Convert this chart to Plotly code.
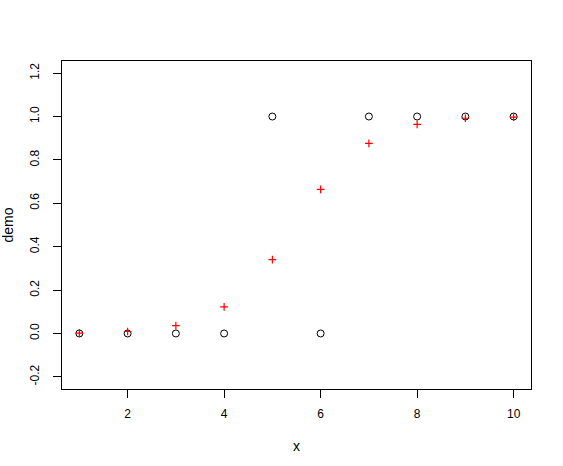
import plotly.graph_objects as go

x_vals = [1, 2, 3, 4, 5, 6, 7, 8, 9, 10]
demo = [0, 0, 0, 0, 1, 0, 1, 1, 1, 1]
fitted = [0.002, 0.009, 0.036, 0.123, 0.340, 0.664, 0.876, 0.964, 0.992, 0.997]

x_ticks = [2, 4, 6, 8, 10]
y_ticks = [-0.2, 0.0, 0.2, 0.4, 0.6, 0.8, 1.0, 1.2]
y_tick_text = ["-0.2", "0.0", "0.2", "0.4", "0.6", "0.8", "1.0", "1.2"]

fig = go.Figure()
fig.add_trace(go.Scatter(
    x=x_vals, y=demo, mode="markers",
    marker=dict(symbol="circle-open", size=7, color="black", line=dict(width=1, color="black")),
    showlegend=False))
fig.add_trace(go.Scatter(
    x=x_vals, y=fitted, mode="markers",
    marker=dict(symbol="cross-thin-open", size=5.5, color="red", line=dict(width=1.2, color="red")),
    showlegend=False))

xr = [1 - 0.36, 10 + 0.36]
yr = [-0.2 - 0.056, 1.2 + 0.056]

fig.update_layout(
    width=563, height=466,
    margin=dict(l=62, r=32, t=61, b=77),
    paper_bgcolor="white", plot_bgcolor="white",
    font=dict(family="Liberation Sans, Arial, sans-serif", size=12, color="black"),
    xaxis=dict(range=xr, tickvals=x_ticks, ticks="outside", ticklen=8, tickwidth=1,
               tickcolor="black", showline=True, linecolor="black", linewidth=1, mirror=True,
               showgrid=False, zeroline=False, ticklabelstandoff=6, automargin=False,
               title=dict(text="x", standoff=20)),
    yaxis=dict(range=yr, tickvals=y_ticks, ticktext=y_tick_text, ticks="outside", ticklen=8,
               tickwidth=1, tickcolor="black", tickangle=-90,
               showline=True, linecolor="black", linewidth=1, mirror=True,
               showgrid=False, zeroline=False, ticklabelstandoff=9, automargin=False,
               title=dict(text="demo", standoff=14)),
)

fig.write_html("out.html", config={"displayModeBar": False},
               post_script="document.body.style.margin='0';")
